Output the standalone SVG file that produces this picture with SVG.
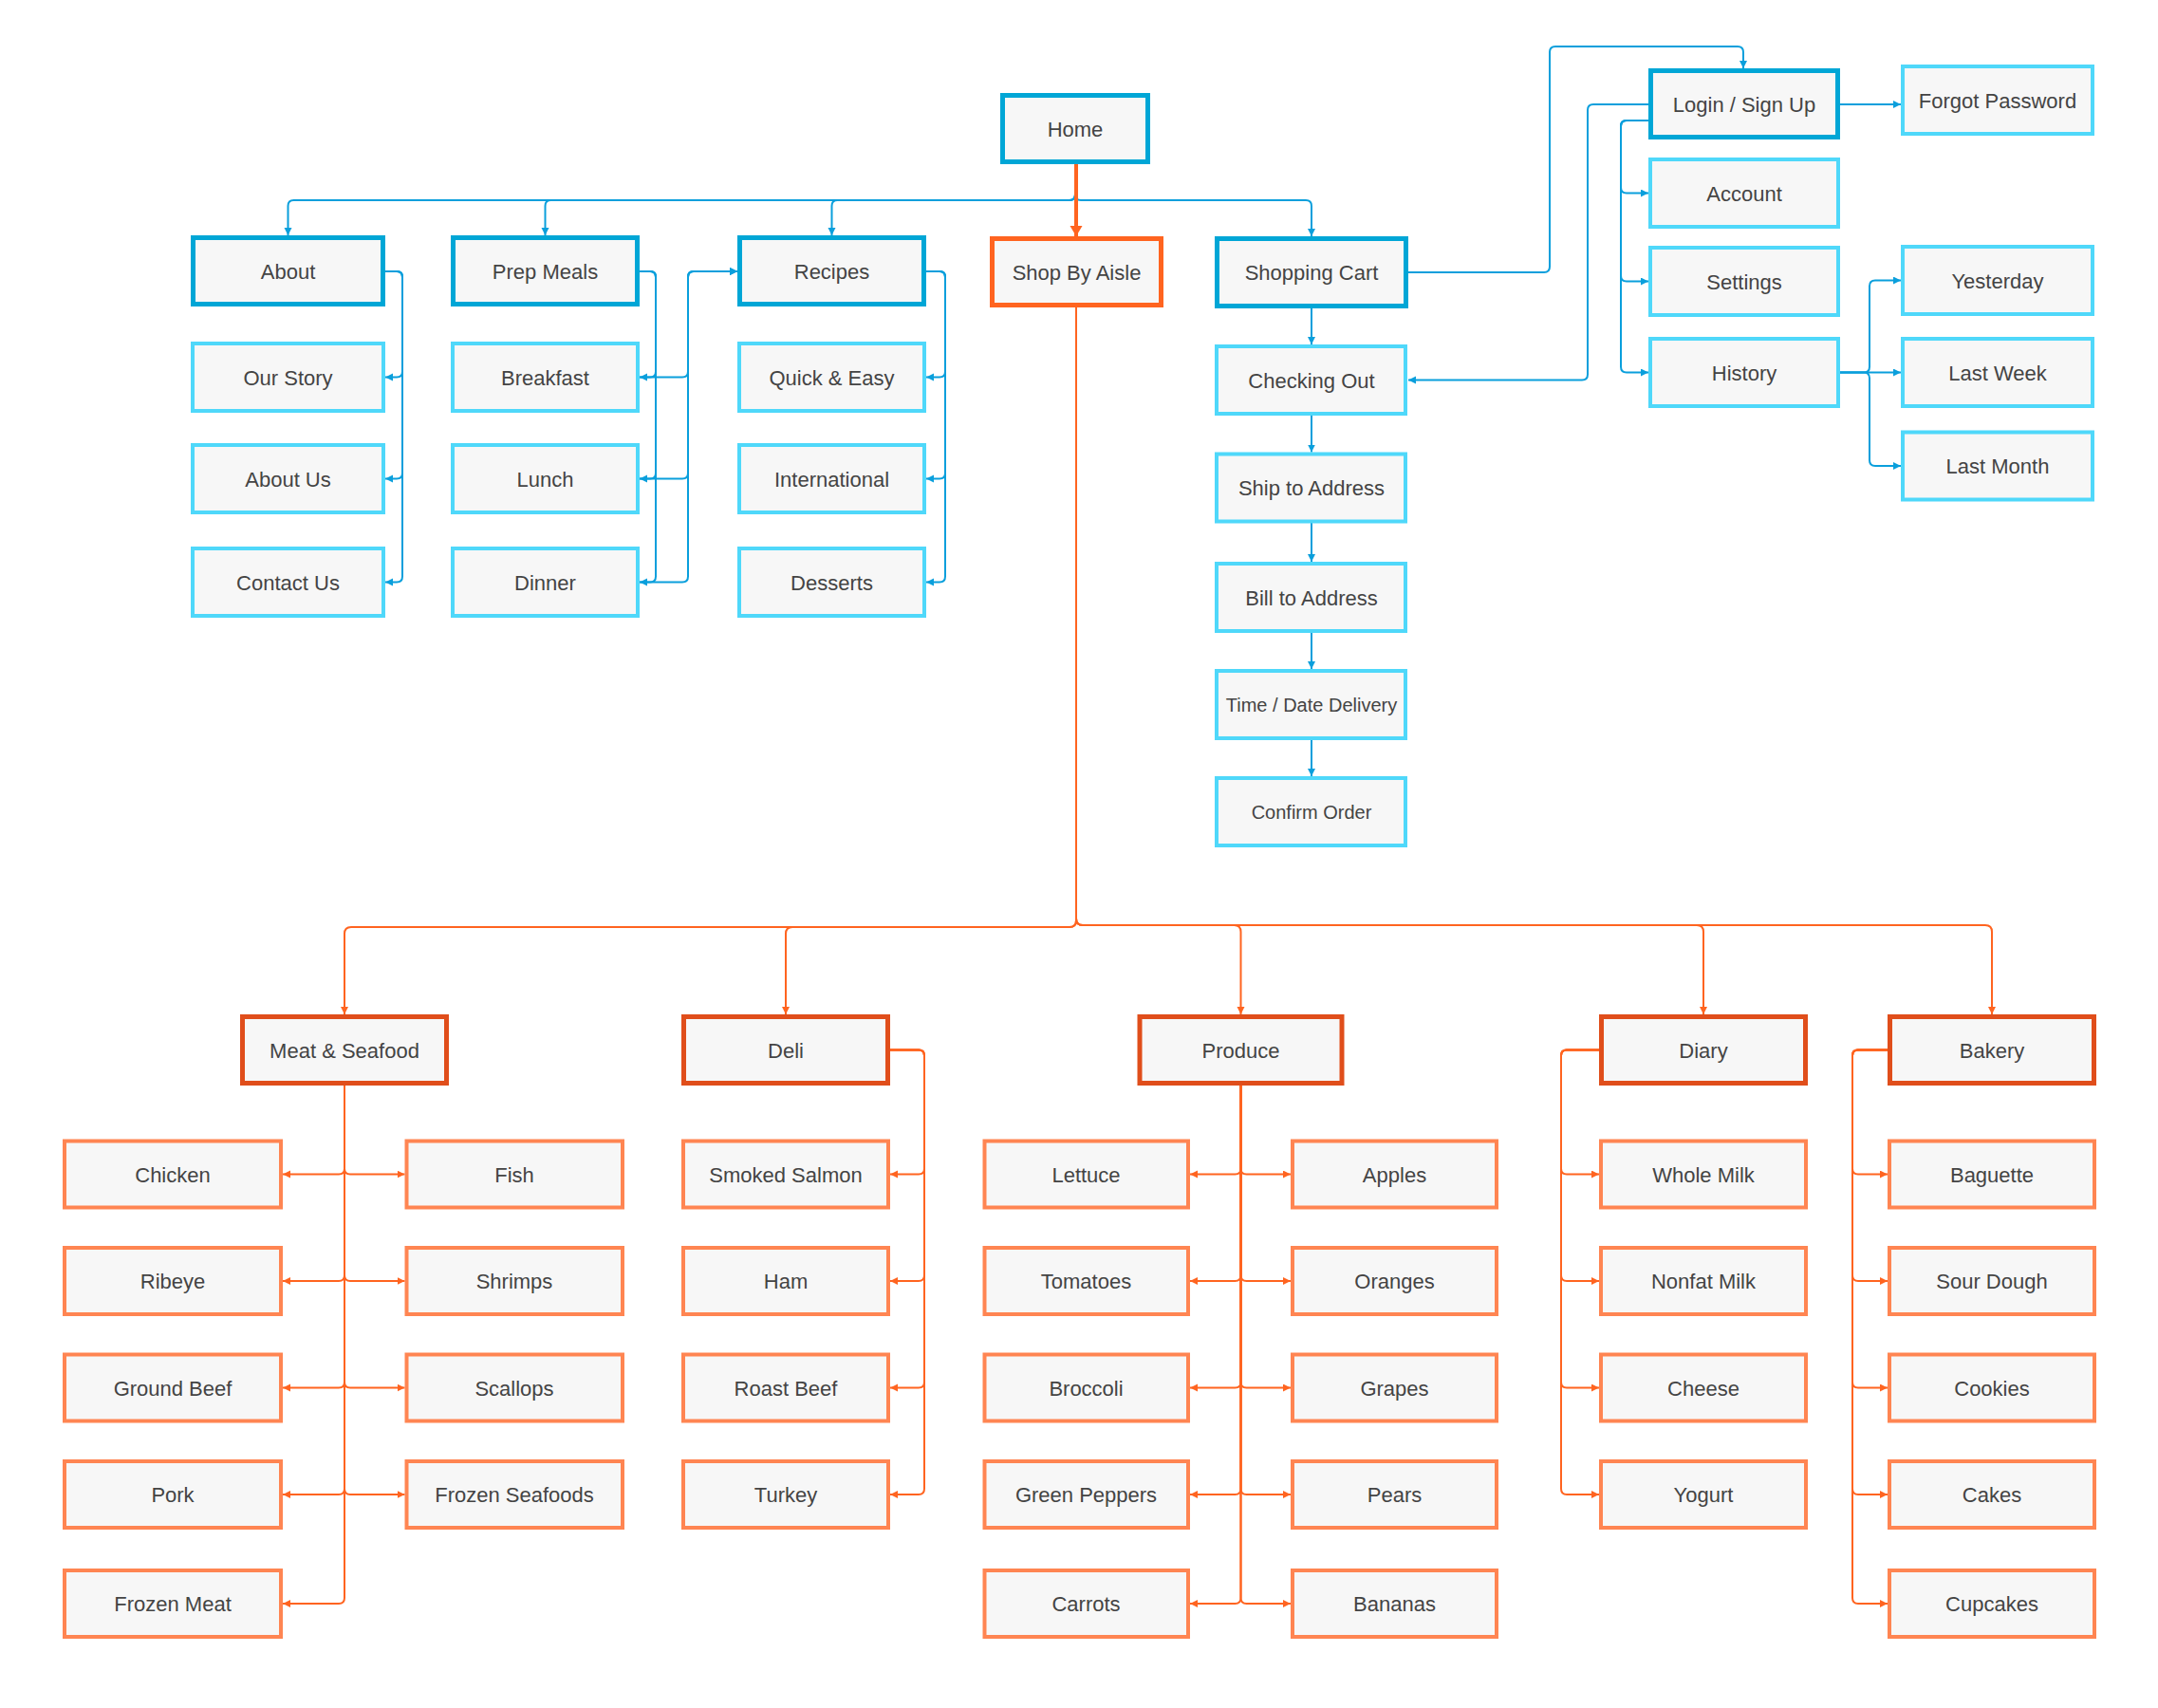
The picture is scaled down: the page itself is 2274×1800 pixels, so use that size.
<svg xmlns="http://www.w3.org/2000/svg" width="2274" height="1800" viewBox="0 0 2274 1800">
<defs>
<marker id="ab" markerUnits="userSpaceOnUse" markerWidth="9" markerHeight="9" refX="8" refY="4" orient="auto"><path d="M0,0 L8,4 L0,8 z" fill="#0a9fdc"/></marker>
<marker id="ao" markerUnits="userSpaceOnUse" markerWidth="9" markerHeight="9" refX="8" refY="4" orient="auto"><path d="M0,0 L8,4 L0,8 z" fill="#ff6420"/></marker>
<marker id="aoBig" markerUnits="userSpaceOnUse" markerWidth="14" markerHeight="14" refX="11" refY="6.5" orient="auto"><path d="M0,0 L11,6.5 L0,13 z" fill="#ff6420"/></marker>
</defs>
<style>
rect{fill:#f7f7f7}
.bp{stroke:#00a6d6;stroke-width:5}
.bc{stroke:#4fd8fa;stroke-width:4}
.op{stroke:#ff6420;stroke-width:5}
.rp{stroke:#e04e1b;stroke-width:5}
.oc{stroke:#ff8552;stroke-width:4}
text{font-family:"Liberation Sans",Arial,sans-serif;font-size:22px;fill:#444;text-anchor:middle}
.s20{font-size:20px}
.cb path{fill:none;stroke:#0a9fdc;stroke-width:2;marker-end:url(#ab)}
.co path{fill:none;stroke:#ff6420;stroke-width:2;marker-end:url(#ao)}
</style>
<rect x="0" y="0" width="2274" height="1800" style="fill:#fff"/>
<g id="connectors">
<g class="cb">
<path d="M1133,173 V205 Q1133,211 1127,211 H309.5 Q303.5,211 303.5,217 V248"/>
<path d="M1133,173 V205 Q1133,211 1127,211 H580.5 Q574.5,211 574.5,217 V248"/>
<path d="M1133,173 V205 Q1133,211 1127,211 H882.5 Q876.5,211 876.5,217 V248"/>
<path d="M1133,173 V205 Q1133,211 1139,211 H1376 Q1382,211 1382,217 V249"/>
<path d="M406,286 H418 Q424,286 424,292 V391.5 Q424,397.5 418,397.5 H406"/>
<path d="M406,286 H418 Q424,286 424,292 V498.5 Q424,504.5 418,504.5 H406"/>
<path d="M406,286 H418 Q424,286 424,292 V607.5 Q424,613.5 418,613.5 H406"/>
<path d="M674,286 H685 Q691,286 691,292 V391.5 Q691,397.5 685,397.5 H674"/>
<path d="M674,286 H685 Q691,286 691,292 V498.5 Q691,504.5 685,504.5 H674"/>
<path d="M674,286 H685 Q691,286 691,292 V607.5 Q691,613.5 685,613.5 H674"/>
<path d="M674,397.5 H719 Q725,397.5 725,391.5 V292 Q725,286 731,286 H777"/>
<path d="M674,504.5 H719 Q725,504.5 725,498.5 V292 Q725,286 731,286 H777"/>
<path d="M674,613.5 H719 Q725,613.5 725,607.5 V292 Q725,286 731,286 H777"/>
<path d="M976,286 H990 Q996,286 996,292 V391.5 Q996,397.5 990,397.5 H976"/>
<path d="M976,286 H990 Q996,286 996,292 V498.5 Q996,504.5 990,504.5 H976"/>
<path d="M976,286 H990 Q996,286 996,292 V607.5 Q996,613.5 990,613.5 H976"/>
<path d="M1382,325 V363"/>
<path d="M1382,438 V476.5"/>
<path d="M1382,551 V592"/>
<path d="M1382,667 V705"/>
<path d="M1382,779.5 V818"/>
<path d="M1484,287 H1627 Q1633,287 1633,281 V55 Q1633,49 1639,49 H1831 Q1837,49 1837,55 V72"/>
<path d="M1737,110 H1679 Q1673,110 1673,116 V394.5 Q1673,400.5 1667,400.5 H1484"/>
<path d="M1737,127 H1714 Q1708,127 1708,133 V197.5 Q1708,203.5 1714,203.5 H1737"/>
<path d="M1737,127 H1714 Q1708,127 1708,133 V290.5 Q1708,296.5 1714,296.5 H1737"/>
<path d="M1737,127 H1714 Q1708,127 1708,133 V386.5 Q1708,392.5 1714,392.5 H1737"/>
<path d="M1939,110 H2003"/>
<path d="M1939,392.5 H1964 Q1970,392.5 1970,386.5 V301.5 Q1970,295.5 1976,295.5 H2003"/>
<path d="M1939,392.5 H2003"/>
<path d="M1939,392.5 H1964 Q1970,392.5 1970,398.5 V485 Q1970,491 1976,491 H2003"/>
</g>
<g class="co">
<path d="M1134,173 V249" style="stroke-width:4;marker-end:url(#aoBig)"/>
<path d="M1134,324 V970 Q1134,977 1127,977 H370 Q363,977 363,984 V1069"/>
<path d="M1134,324 V970 Q1134,977 1127,977 H835 Q828,977 828,984 V1069"/>
<path d="M1134,324 V968 Q1134,975 1141,975 H1300.5 Q1307.5,975 1307.5,982 V1069"/>
<path d="M1134,324 V968 Q1134,975 1141,975 H1788 Q1795,975 1795,982 V1069"/>
<path d="M1134,324 V968 Q1134,975 1141,975 H2092 Q2099,975 2099,982 V1069"/>
<path d="M363,1144 V1231.5 Q363,1237.5 357,1237.5 H298"/>
<path d="M363,1144 V1231.5 Q363,1237.5 369,1237.5 H426.5"/>
<path d="M363,1144 V1344 Q363,1350 357,1350 H298"/>
<path d="M363,1144 V1344 Q363,1350 369,1350 H426.5"/>
<path d="M363,1144 V1456.5 Q363,1462.5 357,1462.5 H298"/>
<path d="M363,1144 V1456.5 Q363,1462.5 369,1462.5 H426.5"/>
<path d="M363,1144 V1569 Q363,1575 357,1575 H298"/>
<path d="M363,1144 V1569 Q363,1575 369,1575 H426.5"/>
<path d="M363,1144 V1684 Q363,1690 357,1690 H298"/>
<path d="M938,1106.5 H968 Q974,1106.5 974,1112.5 V1231.5 Q974,1237.5 968,1237.5 H938"/>
<path d="M938,1106.5 H968 Q974,1106.5 974,1112.5 V1344 Q974,1350 968,1350 H938"/>
<path d="M938,1106.5 H968 Q974,1106.5 974,1112.5 V1456.5 Q974,1462.5 968,1462.5 H938"/>
<path d="M938,1106.5 H968 Q974,1106.5 974,1112.5 V1569 Q974,1575 968,1575 H938"/>
<path d="M1307.5,1144 V1231.5 Q1307.5,1237.5 1301.5,1237.5 H1254"/>
<path d="M1307.5,1144 V1231.5 Q1307.5,1237.5 1313.5,1237.5 H1360"/>
<path d="M1307.5,1144 V1344 Q1307.5,1350 1301.5,1350 H1254"/>
<path d="M1307.5,1144 V1344 Q1307.5,1350 1313.5,1350 H1360"/>
<path d="M1307.5,1144 V1456.5 Q1307.5,1462.5 1301.5,1462.5 H1254"/>
<path d="M1307.5,1144 V1456.5 Q1307.5,1462.5 1313.5,1462.5 H1360"/>
<path d="M1307.5,1144 V1569 Q1307.5,1575 1301.5,1575 H1254"/>
<path d="M1307.5,1144 V1569 Q1307.5,1575 1313.5,1575 H1360"/>
<path d="M1307.5,1144 V1684 Q1307.5,1690 1301.5,1690 H1254"/>
<path d="M1307.5,1144 V1684 Q1307.5,1690 1313.5,1690 H1360"/>
<path d="M1685,1106.5 H1651 Q1645,1106.5 1645,1112.5 V1231.5 Q1645,1237.5 1651,1237.5 H1685"/>
<path d="M1685,1106.5 H1651 Q1645,1106.5 1645,1112.5 V1344 Q1645,1350 1651,1350 H1685"/>
<path d="M1685,1106.5 H1651 Q1645,1106.5 1645,1112.5 V1456.5 Q1645,1462.5 1651,1462.5 H1685"/>
<path d="M1685,1106.5 H1651 Q1645,1106.5 1645,1112.5 V1569 Q1645,1575 1651,1575 H1685"/>
<path d="M1989,1106.5 H1958 Q1952,1106.5 1952,1112.5 V1231.5 Q1952,1237.5 1958,1237.5 H1989"/>
<path d="M1989,1106.5 H1958 Q1952,1106.5 1952,1112.5 V1344 Q1952,1350 1958,1350 H1989"/>
<path d="M1989,1106.5 H1958 Q1952,1106.5 1952,1112.5 V1456.5 Q1952,1462.5 1958,1462.5 H1989"/>
<path d="M1989,1106.5 H1958 Q1952,1106.5 1952,1112.5 V1569 Q1952,1575 1958,1575 H1989"/>
<path d="M1989,1106.5 H1958 Q1952,1106.5 1952,1112.5 V1684 Q1952,1690 1958,1690 H1989"/>
</g>
</g>
<g id="home"><rect class="bp" x="1056.5" y="100.5" width="153" height="70"/><text x="1133" y="143.5">Home</text></g>
<g id="about"><rect class="bp" x="203.5" y="250.5" width="200" height="70"/><text x="303.5" y="293.5">About</text></g>
<g id="prep-meals"><rect class="bp" x="477.5" y="250.5" width="194" height="70"/><text x="574.5" y="293.5">Prep Meals</text></g>
<g id="recipes"><rect class="bp" x="779.5" y="250.5" width="194" height="70"/><text x="876.5" y="293.5">Recipes</text></g>
<g id="shop-by-aisle"><rect class="op" x="1045.5" y="251.5" width="178" height="70"/><text x="1134.5" y="294.5">Shop By Aisle</text></g>
<g id="shopping-cart"><rect class="bp" x="1282.5" y="251.5" width="199" height="71"/><text x="1382" y="295">Shopping Cart</text></g>
<g id="login"><rect class="bp" x="1739.5" y="74.5" width="197" height="70"/><text x="1838" y="117.5">Login / Sign Up</text></g>
<g id="our-story"><rect class="bc" x="203" y="362" width="201" height="71"/><text x="303.5" y="405.5">Our Story</text></g>
<g id="about-us"><rect class="bc" x="203" y="469" width="201" height="71"/><text x="303.5" y="512.5">About Us</text></g>
<g id="contact-us"><rect class="bc" x="203" y="578" width="201" height="71"/><text x="303.5" y="621.5">Contact Us</text></g>
<g id="breakfast"><rect class="bc" x="477" y="362" width="195" height="71"/><text x="574.5" y="405.5">Breakfast</text></g>
<g id="lunch"><rect class="bc" x="477" y="469" width="195" height="71"/><text x="574.5" y="512.5">Lunch</text></g>
<g id="dinner"><rect class="bc" x="477" y="578" width="195" height="71"/><text x="574.5" y="621.5">Dinner</text></g>
<g id="quick-easy"><rect class="bc" x="779" y="362" width="195" height="71"/><text x="876.5" y="405.5">Quick &amp; Easy</text></g>
<g id="international"><rect class="bc" x="779" y="469" width="195" height="71"/><text x="876.5" y="512.5">International</text></g>
<g id="desserts"><rect class="bc" x="779" y="578" width="195" height="71"/><text x="876.5" y="621.5">Desserts</text></g>
<g id="checking-out"><rect class="bc" x="1282" y="365" width="199" height="71"/><text x="1382" y="408.5">Checking Out</text></g>
<g id="ship-to-address"><rect class="bc" x="1282" y="478.5" width="199" height="71"/><text x="1382" y="522">Ship to Address</text></g>
<g id="bill-to-address"><rect class="bc" x="1282" y="594" width="199" height="71"/><text x="1382" y="637.5">Bill to Address</text></g>
<g id="time-date-delivery"><rect class="bc" x="1282" y="707" width="199" height="71"/><text class="s20" x="1382" y="749.5">Time / Date Delivery</text></g>
<g id="confirm-order"><rect class="bc" x="1282" y="820" width="199" height="71"/><text class="s20" x="1382" y="862.5">Confirm Order</text></g>
<g id="forgot-password"><rect class="bc" x="2005" y="70" width="200" height="71"/><text x="2105" y="113.5">Forgot Password</text></g>
<g id="account"><rect class="bc" x="1739" y="168" width="198" height="71"/><text x="1838" y="211.5">Account</text></g>
<g id="settings"><rect class="bc" x="1739" y="261" width="198" height="71"/><text x="1838" y="304.5">Settings</text></g>
<g id="history"><rect class="bc" x="1739" y="357" width="198" height="71"/><text x="1838" y="400.5">History</text></g>
<g id="yesterday"><rect class="bc" x="2005" y="260" width="200" height="71"/><text x="2105" y="303.5">Yesterday</text></g>
<g id="last-week"><rect class="bc" x="2005" y="357" width="200" height="71"/><text x="2105" y="400.5">Last Week</text></g>
<g id="last-month"><rect class="bc" x="2005" y="455.5" width="200" height="71"/><text x="2105" y="499">Last Month</text></g>
<g id="meat-seafood"><rect class="rp" x="255.5" y="1071.5" width="215" height="70"/><text x="363" y="1114.5">Meat &amp; Seafood</text></g>
<g id="deli"><rect class="rp" x="720.5" y="1071.5" width="215" height="70"/><text x="828" y="1114.5">Deli</text></g>
<g id="produce"><rect class="rp" x="1201" y="1071.5" width="213" height="70"/><text x="1307.5" y="1114.5">Produce</text></g>
<g id="diary"><rect class="rp" x="1687.5" y="1071.5" width="215" height="70"/><text x="1795" y="1114.5">Diary</text></g>
<g id="bakery"><rect class="rp" x="1991.5" y="1071.5" width="215" height="70"/><text x="2099" y="1114.5">Bakery</text></g>
<g id="chicken"><rect class="oc" x="68" y="1202.5" width="228" height="70"/><text x="182" y="1245.5">Chicken</text></g>
<g id="ribeye"><rect class="oc" x="68" y="1315" width="228" height="70"/><text x="182" y="1358">Ribeye</text></g>
<g id="ground-beef"><rect class="oc" x="68" y="1427.5" width="228" height="70"/><text x="182" y="1470.5">Ground Beef</text></g>
<g id="pork"><rect class="oc" x="68" y="1540" width="228" height="70"/><text x="182" y="1583">Pork</text></g>
<g id="frozen-meat"><rect class="oc" x="68" y="1655" width="228" height="70"/><text x="182" y="1698">Frozen Meat</text></g>
<g id="fish"><rect class="oc" x="428.5" y="1202.5" width="227.5" height="70"/><text x="542" y="1245.5">Fish</text></g>
<g id="shrimps"><rect class="oc" x="428.5" y="1315" width="227.5" height="70"/><text x="542" y="1358">Shrimps</text></g>
<g id="scallops"><rect class="oc" x="428.5" y="1427.5" width="227.5" height="70"/><text x="542" y="1470.5">Scallops</text></g>
<g id="frozen-seafoods"><rect class="oc" x="428.5" y="1540" width="227.5" height="70"/><text x="542" y="1583">Frozen Seafoods</text></g>
<g id="smoked-salmon"><rect class="oc" x="720" y="1202.5" width="216" height="70"/><text x="828" y="1245.5">Smoked Salmon</text></g>
<g id="ham"><rect class="oc" x="720" y="1315" width="216" height="70"/><text x="828" y="1358">Ham</text></g>
<g id="roast-beef"><rect class="oc" x="720" y="1427.5" width="216" height="70"/><text x="828" y="1470.5">Roast Beef</text></g>
<g id="turkey"><rect class="oc" x="720" y="1540" width="216" height="70"/><text x="828" y="1583">Turkey</text></g>
<g id="lettuce"><rect class="oc" x="1037.5" y="1202.5" width="214.5" height="70"/><text x="1144.5" y="1245.5">Lettuce</text></g>
<g id="tomatoes"><rect class="oc" x="1037.5" y="1315" width="214.5" height="70"/><text x="1144.5" y="1358">Tomatoes</text></g>
<g id="broccoli"><rect class="oc" x="1037.5" y="1427.5" width="214.5" height="70"/><text x="1144.5" y="1470.5">Broccoli</text></g>
<g id="green-peppers"><rect class="oc" x="1037.5" y="1540" width="214.5" height="70"/><text x="1144.5" y="1583">Green Peppers</text></g>
<g id="carrots"><rect class="oc" x="1037.5" y="1655" width="214.5" height="70"/><text x="1144.5" y="1698">Carrots</text></g>
<g id="apples"><rect class="oc" x="1362" y="1202.5" width="215" height="70"/><text x="1469.5" y="1245.5">Apples</text></g>
<g id="oranges"><rect class="oc" x="1362" y="1315" width="215" height="70"/><text x="1469.5" y="1358">Oranges</text></g>
<g id="grapes"><rect class="oc" x="1362" y="1427.5" width="215" height="70"/><text x="1469.5" y="1470.5">Grapes</text></g>
<g id="pears"><rect class="oc" x="1362" y="1540" width="215" height="70"/><text x="1469.5" y="1583">Pears</text></g>
<g id="bananas"><rect class="oc" x="1362" y="1655" width="215" height="70"/><text x="1469.5" y="1698">Bananas</text></g>
<g id="whole-milk"><rect class="oc" x="1687" y="1202.5" width="216" height="70"/><text x="1795" y="1245.5">Whole Milk</text></g>
<g id="nonfat-milk"><rect class="oc" x="1687" y="1315" width="216" height="70"/><text x="1795" y="1358">Nonfat Milk</text></g>
<g id="cheese"><rect class="oc" x="1687" y="1427.5" width="216" height="70"/><text x="1795" y="1470.5">Cheese</text></g>
<g id="yogurt"><rect class="oc" x="1687" y="1540" width="216" height="70"/><text x="1795" y="1583">Yogurt</text></g>
<g id="baguette"><rect class="oc" x="1991" y="1202.5" width="216" height="70"/><text x="2099" y="1245.5">Baguette</text></g>
<g id="sour-dough"><rect class="oc" x="1991" y="1315" width="216" height="70"/><text x="2099" y="1358">Sour Dough</text></g>
<g id="cookies"><rect class="oc" x="1991" y="1427.5" width="216" height="70"/><text x="2099" y="1470.5">Cookies</text></g>
<g id="cakes"><rect class="oc" x="1991" y="1540" width="216" height="70"/><text x="2099" y="1583">Cakes</text></g>
<g id="cupcakes"><rect class="oc" x="1991" y="1655" width="216" height="70"/><text x="2099" y="1698">Cupcakes</text></g>
</svg>
